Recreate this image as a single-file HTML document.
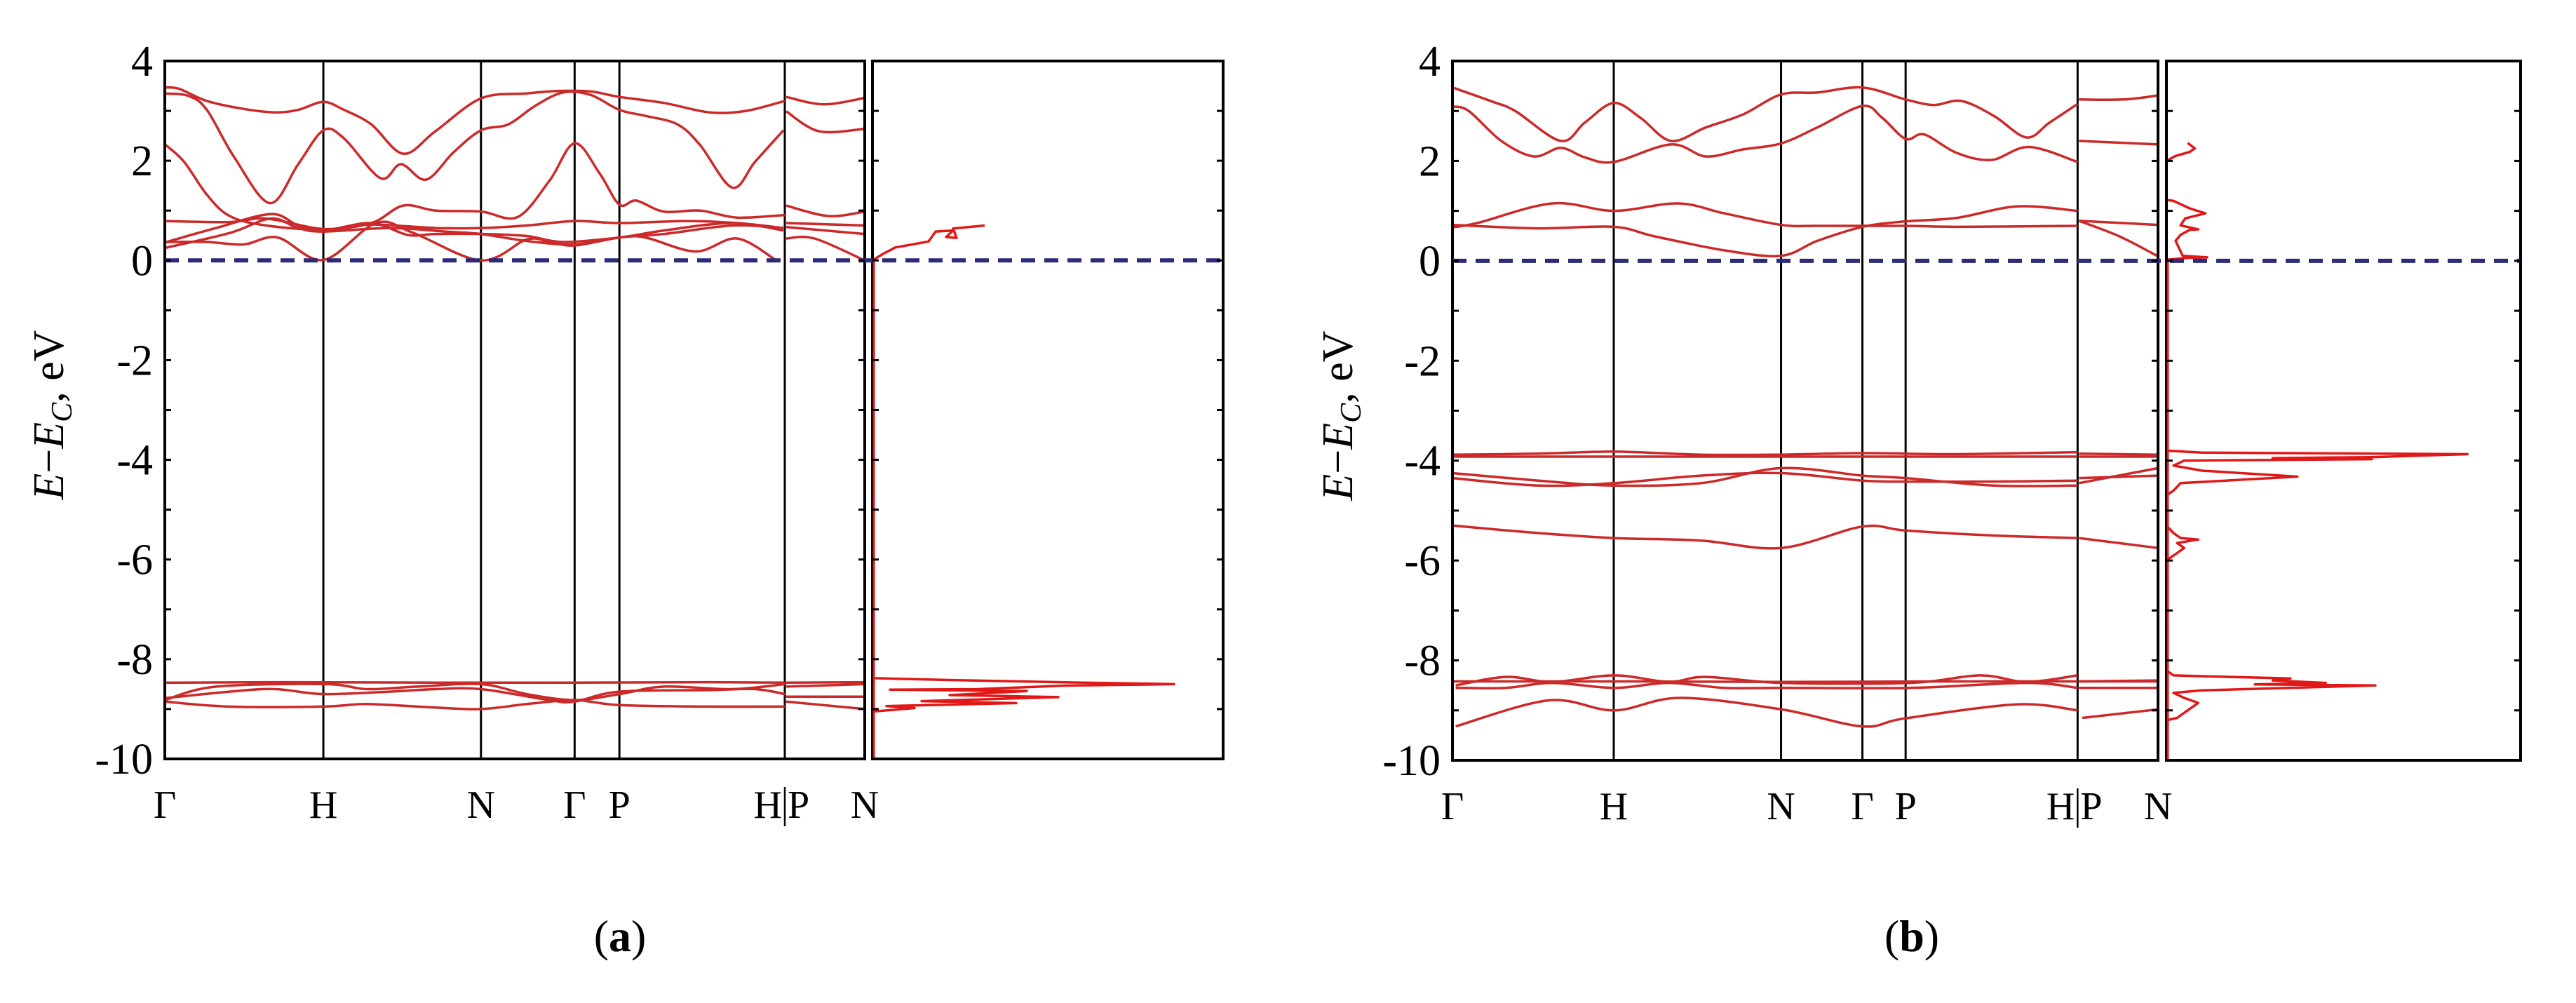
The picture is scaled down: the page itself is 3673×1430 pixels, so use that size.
<!DOCTYPE html>
<html><head><meta charset="utf-8"><style>
html,body{margin:0;padding:0;background:#fff;}
svg{display:block;}
text{font-family:"Liberation Serif",serif;fill:#000;}
</style></head><body>
<svg id="fig" width="3673" height="1430" viewBox="0 0 3673 1430" xmlns="http://www.w3.org/2000/svg">
<g id="pa"></g>
<g id="pb"></g>
</svg>
<script>
// ---------- shared ----------
const yTicks = [4,2,0,-2,-4,-6,-8,-10];
const kLabels = ["Γ","H","N","Γ","P","H|P","N"];

// ---------- panel (a) data: [k, E] (k in path units) ----------
const aSym = [8,355,700,905,1003,1365,1540];
const aBand1 = [[8,3.47],[40,3.44],[100,3.2],[180,3.04],[250,2.97],[300,3.02],[355,3.18],[400,3.02],[460,2.73],[530,2.14],[600,2.59],[700,3.25],[800,3.35],[870,3.4],[940,3.39],[1003,3.28],[1100,3.16],[1200,2.97],[1280,3.0],[1365,3.2]];
const aBand1b = [[1368,3.28],[1450,3.13],[1540,3.26]];
const aBand2 = [[8,3.35],[60,3.3],[100,3.02],[160,2.07],[238,1.15],[300,1.93],[355,2.61],[400,2.45],[480,1.65],[525,1.93],[580,1.62],[640,2.17],[700,2.61],[760,2.73],[820,3.11],[880,3.37],[940,3.32],[1003,3.02],[1060,2.9],[1130,2.73],[1180,2.31],[1250,1.46],[1300,1.98],[1362,2.61]];
const aBand2b = [[1368,2.99],[1440,2.59],[1540,2.64]];
const aBand3 = [[8,2.33],[50,1.98],[100,1.32],[150,0.89],[230,0.7],[355,0.62],[460,0.75],[530,1.1],[600,1.0],[700,0.98],[780,0.87],[850,1.6],[905,2.35],[960,1.74],[1003,1.12],[1040,1.2],[1100,0.98],[1180,1.0],[1260,0.86],[1365,0.91]];
const aBand3b = [[1368,1.1],[1460,0.89],[1540,0.98]];
const aBand4 = [[8,0.79],[150,0.77],[230,0.84],[355,0.63],[460,0.72],[600,0.65],[700,0.65],[800,0.7],[905,0.79],[1003,0.75],[1150,0.79],[1260,0.75],[1362,0.65]];
const aBand4b = [[1368,0.75],[1540,0.7]];
const aBand5 = [[8,0.36],[120,0.65],[240,0.93],[300,0.7],[355,0.6],[460,0.75],[540,0.51],[600,0.53],[700,0.53],[800,0.49],[880,0.37],[1003,0.46],[1100,0.6],[1250,0.75],[1362,0.6]];
const aBand5b = [[1368,0.67],[1540,0.53]];
const aBand6 = [[8,0.25],[150,0.55],[240,0.84],[300,0.65],[355,0.58],[500,0.65],[620,0.58],[700,0.53],[800,0.39],[905,0.32],[1003,0.46],[1100,0.53],[1250,0.7],[1362,0.65]];
const aBand6b = [[1368,0.44],[1430,0.44],[1540,0.0]];
const aBand7 = [[8,0.37],[100,0.37],[180,0.32],[255,0.46],[355,0.01],[470,0.75],[550,0.56],[700,0.0],[800,0.42],[850,0.37],[905,0.3],[1003,0.46],[1060,0.46],[1170,0.18],[1260,0.44],[1345,0.01]];
const aBand8 = [[8,-8.47],[300,-8.46],[600,-8.47],[900,-8.47],[1200,-8.46],[1365,-8.47]];
const aBand8b = [[1368,-8.47],[1540,-8.46]];
const aBand9 = [[8,-8.82],[120,-8.55],[360,-8.5],[450,-8.6],[560,-8.55],[700,-8.5],[800,-8.7],[905,-8.82],[1003,-8.7],[1100,-8.55],[1250,-8.6],[1365,-8.5]];
const aBand9b = [[1368,-8.55],[1540,-8.5]];
const aBand10 = [[8,-8.78],[150,-8.65],[250,-8.6],[355,-8.7],[500,-8.65],[600,-8.6],[700,-8.6],[850,-8.82],[905,-8.85],[1003,-8.65],[1200,-8.62],[1300,-8.6],[1365,-8.7]];
const aBand10b = [[1368,-8.75],[1540,-8.75]];
const aBand11 = [[8,-8.85],[150,-8.95],[355,-8.95],[450,-8.9],[600,-8.97],[700,-9.0],[800,-8.9],[905,-8.82],[1003,-8.92],[1200,-8.95],[1365,-8.95]];
const aBand11b = [[1368,-8.85],[1540,-9.0]];
// DOS (a): [fraction of DOS width, E]
const aDos = [[0,-10],[0,-9.05],[0.12,-8.98],[0.04,-8.94],[0.41,-8.88],[0.14,-8.84],[0.53,-8.76],[0.22,-8.72],[0.44,-8.64],[0.05,-8.61],[0.3,-8.6],[0.55,-8.53],[0.86,-8.5],[0.6,-8.47],[0.24,-8.42],[0,-8.38],[0,0],[0.03,0.13],[0.065,0.26],[0.16,0.38],[0.18,0.58],[0.23,0.6],[0.21,0.47],[0.24,0.45],[0.23,0.64],[0.32,0.7]];

// ---------- panel (b) data ----------
const bSym = [15,362,722,897,990,1360,1533];
const bBand1 = [[15,3.47],[100,3.19],[150,3.0],[248,2.4],[300,2.77],[362,3.16],[420,2.86],[485,2.4],[560,2.67],[640,2.93],[722,3.33],[800,3.37],[897,3.47],[990,3.23],[1050,3.12],[1110,3.2],[1180,2.9],[1250,2.47],[1300,2.77],[1360,3.14]];
const bBand1b = [[1363,3.23],[1460,3.23],[1533,3.31]];
const bBand2 = [[15,3.09],[50,3.0],[120,2.4],[190,2.09],[248,2.26],[300,2.07],[362,1.98],[485,2.33],[560,2.09],[640,2.23],[722,2.35],[800,2.67],[897,3.1],[940,2.86],[990,2.44],[1030,2.53],[1100,2.16],[1175,2.02],[1255,2.28],[1360,1.98]];
const bBand2b = [[1363,2.4],[1533,2.33]];
const bBand3 = [[15,0.67],[70,0.76],[230,1.15],[362,1.0],[500,1.15],[600,0.95],[722,0.72],[800,0.7],[990,0.7],[1100,0.68],[1360,0.7]];
const bBand3b = [[1363,0.8],[1533,0.72]];
const bBand4 = [[15,0.72],[200,0.65],[362,0.68],[450,0.49],[600,0.21],[722,0.1],[800,0.4],[897,0.68],[990,0.79],[1100,0.86],[1230,1.09],[1360,1.0]];
const bBand4b = [[1363,0.8],[1450,0.49],[1533,0.09]];
const bBand5 = [[15,-3.88],[200,-3.86],[362,-3.82],[550,-3.88],[722,-3.88],[897,-3.85],[1100,-3.87],[1360,-3.83]];
const bBand5b = [[1363,-3.86],[1533,-3.88]];
const bBand6 = [[15,-3.92],[362,-3.92],[722,-3.92],[1000,-3.92],[1360,-3.92]];
const bBand6b = [[1363,-3.92],[1533,-3.92]];
const bBand7 = [[15,-4.25],[200,-4.4],[362,-4.5],[550,-4.45],[722,-4.15],[897,-4.3],[990,-4.35],[1180,-4.5],[1360,-4.5]];
const bBand7b = [[1363,-4.45],[1533,-4.15]];
const bBand8 = [[15,-4.35],[200,-4.5],[362,-4.45],[550,-4.3],[722,-4.25],[897,-4.4],[990,-4.42],[1180,-4.42],[1360,-4.4]];
const bBand8b = [[1363,-4.35],[1533,-4.3]];
const bBand9 = [[15,-5.3],[200,-5.45],[362,-5.55],[550,-5.6],[722,-5.75],[897,-5.32],[990,-5.4],[1180,-5.5],[1360,-5.55]];
const bBand9b = [[1363,-5.55],[1533,-5.75]];
const bBand10 = [[15,-8.42],[400,-8.42],[722,-8.43],[1100,-8.42],[1360,-8.42]];
const bBand10b = [[1363,-8.42],[1533,-8.42]];
const bBand11 = [[22,-8.5],[130,-8.33],[230,-8.43],[363,-8.3],[480,-8.43],[560,-8.33],[723,-8.45],[1000,-8.45],[1150,-8.3],[1250,-8.43],[1360,-8.3]];
const bBand11b = [[1363,-8.42],[1533,-8.4]];
const bBand12 = [[22,-8.55],[130,-8.55],[230,-8.45],[363,-8.55],[480,-8.45],[600,-8.55],[723,-8.55],[1000,-8.55],[1250,-8.45],[1360,-8.55]];
const bBand12b = [[1363,-8.55],[1533,-8.55]];
const bBand13 = [[22,-9.32],[222,-8.8],[363,-9.0],[504,-8.75],[723,-8.98],[896,-9.32],[989,-9.16],[1229,-8.88],[1360,-9.0]];
const bBand13b = [[1370,-9.15],[1533,-8.98]];
const bDos = [[0,-10],[0,-9.2],[0.03,-9.15],[0.06,-9.0],[0.09,-8.85],[0.05,-8.75],[0.02,-8.65],[0.1,-8.6],[0.59,-8.5],[0.25,-8.48],[0.45,-8.45],[0.3,-8.4],[0.35,-8.36],[0.12,-8.32],[0.02,-8.3],[0,-8.2],[0,-6.0],[0.03,-5.85],[0.05,-5.75],[0.03,-5.65],[0.09,-5.58],[0.04,-5.55],[0.02,-5.45],[0,-5.3],[0,-4.7],[0.02,-4.6],[0.04,-4.45],[0.37,-4.32],[0.1,-4.2],[0.02,-4.1],[0.05,-4.0],[0.58,-3.97],[0.3,-3.95],[0.58,-3.93],[0.85,-3.87],[0.1,-3.84],[0,-3.8],[0,0.02],[0.06,0.06],[0.115,0.07],[0.046,0.1],[0.026,0.4],[0.04,0.52],[0.066,0.62],[0.09,0.63],[0.04,0.71],[0.053,0.85],[0.11,0.95],[0.066,1.05],[0.02,1.2],[0,1.22],[0,2.0],[0.026,2.1],[0.066,2.18],[0.08,2.25],[0.06,2.36]];

const aBands = [aBand1,aBand1b,aBand2,aBand2b,aBand3,aBand3b,aBand4,aBand4b,aBand5,aBand5b,aBand6,aBand6b,aBand7,aBand8,aBand8b,aBand9,aBand9b,aBand10,aBand10b,aBand11,aBand11b];
const bBands = [bBand1,bBand1b,bBand2,bBand2b,bBand3,bBand3b,bBand4,bBand4b,bBand5,bBand5b,bBand6,bBand6b,bBand7,bBand7b,bBand8,bBand8b,bBand9,bBand9b,bBand10,bBand10b,bBand11,bBand11b,bBand12,bBand12b,bBand13,bBand13b];

const NS = "http://www.w3.org/2000/svg";
function mk(tag, attrs, parent){
  const e = document.createElementNS(NS, tag);
  for (const k in attrs) e.setAttribute(k, attrs[k]);
  parent.appendChild(e);
  return e;
}
function smoothPath(pts){
  if (pts.length < 3) return "M" + pts.map(p => p[0].toFixed(1)+","+p[1].toFixed(1)).join(" L");
  let d = "M" + pts[0][0].toFixed(1) + "," + pts[0][1].toFixed(1);
  for (let i = 0; i < pts.length - 1; i++){
    const p0 = pts[i-1] || pts[i], p1 = pts[i], p2 = pts[i+1], p3 = pts[i+2] || pts[i+1];
    const c1x = p1[0] + (p2[0]-p0[0])/6, c1y = p1[1] + (p2[1]-p0[1])/6;
    const c2x = p2[0] - (p3[0]-p1[0])/6, c2y = p2[1] - (p3[1]-p1[1])/6;
    d += " C" + c1x.toFixed(1)+","+c1y.toFixed(1)+" "+c2x.toFixed(1)+","+c2y.toFixed(1)+" "+p2[0].toFixed(1)+","+p2[1].toFixed(1);
  }
  return d;
}

function drawPanel(g, cfg){
  const yS = E => cfg.top + (4 - E) / 14 * (cfg.bottom - cfg.top);
  const xS = k => cfg.left + (k - cfg.sym[0]) / (cfg.sym[cfg.sym.length-1] - cfg.sym[0]) * (cfg.bandRight - cfg.left);
  const dS = f => cfg.dosLeft + f * (cfg.dosRight - cfg.dosLeft);

  cfg.sym.slice(1, cfg.sym.length-1).forEach((k, i) => {
    const ln = mk("line", {x1:xS(k), x2:xS(k), y1:cfg.top, y2:cfg.bottom, stroke:"#000", "stroke-width":3}, g);
    
    
  });

  cfg.bands.forEach((b, i) => {
    const p = mk("path", {d: smoothPath(b.map(q => [xS(q[0]), yS(q[1])])), fill:"none", stroke:"#cc2a2a", "stroke-width":3.5, "stroke-linejoin":"round"}, g);
    
    
  });

  const dp = mk("polyline", {points: cfg.dos.map(q => dS(q[0]).toFixed(1)+","+yS(q[1]).toFixed(1)).join(" "), fill:"none", stroke:"#e01818", "stroke-width":3.5, "stroke-linejoin":"round"}, g);
  
  

  const f1 = mk("rect", {x:cfg.left, y:cfg.top, width:cfg.bandRight-cfg.left, height:cfg.bottom-cfg.top, fill:"none", stroke:"#000", "stroke-width":4}, g);
  
  
  const f2 = mk("rect", {x:cfg.dosLeft, y:cfg.top, width:cfg.dosRight-cfg.dosLeft, height:cfg.bottom-cfg.top, fill:"none", stroke:"#000", "stroke-width":4}, g);
  
  
  const vb = mk("line", {x1:cfg.dosLeft+2, x2:cfg.dosLeft+2, y1:cfg.bottom, y2:yS(0), stroke:"#e01818", "stroke-width":3}, g);
  
  

  const fl = mk("line", {x1:cfg.left, x2:cfg.dosRight, y1:yS(0), y2:yS(0), stroke:"#2b2b7a", "stroke-width":6, "stroke-dasharray":"20 13"}, g);
  
  

  for (let E = -10; E <= 4; E++){
    [[cfg.left, 1],[cfg.bandRight, -1],[cfg.dosLeft, 1],[cfg.dosRight, -1]].forEach(a => {
      const t = mk("line", {x1:a[0], x2:a[0] + a[1]*9, y1:yS(E), y2:yS(E), stroke:"#000", "stroke-width":3}, g);
      
      
    });
  }
  yTicks.forEach(v => {
    const t = mk("text", {x:cfg.left - 17, y:yS(v) + 21, "text-anchor":"end", "font-size":62}, g);
    t.textContent = String(v);
    
    
  });

  kLabels.forEach((lab, i) => {
    const x = xS(cfg.sym[i]);
    const by = cfg.bottom + 84;
    if (lab === "H|P"){
      const t1 = mk("text", {x:x - 4, y:by, "text-anchor":"end", "font-size":56}, g);
      t1.textContent = "H";
      
      
      const sep = mk("line", {x1:x, x2:x, y1:by - 44, y2:by + 12, stroke:"#000", "stroke-width":2.5}, g);
      
      
      const t2 = mk("text", {x:x + 4, y:by, "text-anchor":"start", "font-size":56}, g);
      t2.textContent = "P";
      
      
    } else {
      const t = mk("text", {x:x, y:by, "text-anchor":"middle", "font-size":56}, g);
      t.textContent = lab;
      
      
    }
  });

  const ty = yS(-3.1);
  const tt = mk("text", {x:cfg.titleX, y:ty, "text-anchor":"middle", "font-size":62, transform:"rotate(-90 " + cfg.titleX + " " + ty + ")"}, g);
  
  
  tt.innerHTML = '<tspan font-style="italic">E</tspan>−<tspan font-style="italic">E</tspan><tspan font-style="italic" font-size="42" dy="12">C</tspan><tspan dy="-12">, eV</tspan>';

  const cp = mk("text", {x:cfg.capX, y:1356, "text-anchor":"middle", "font-size":64}, g);
  
  
  cp.innerHTML = '(<tspan font-weight="bold">' + cfg.cap + '</tspan>)';
}

drawPanel(document.getElementById("pa"), {left:235, bandRight:1233, dosLeft:1244, dosRight:1744, top:87, bottom:1082, sym:aSym, bands:aBands, dos:aDos, titleX:90, capX:884, cap:"a"});
drawPanel(document.getElementById("pb"), {left:2071, bandRight:3077, dosLeft:3089, dosRight:3594, top:87, bottom:1084, sym:bSym, bands:bBands, dos:bDos, titleX:1928, capX:2726, cap:"b"});
</script>
</body></html>
